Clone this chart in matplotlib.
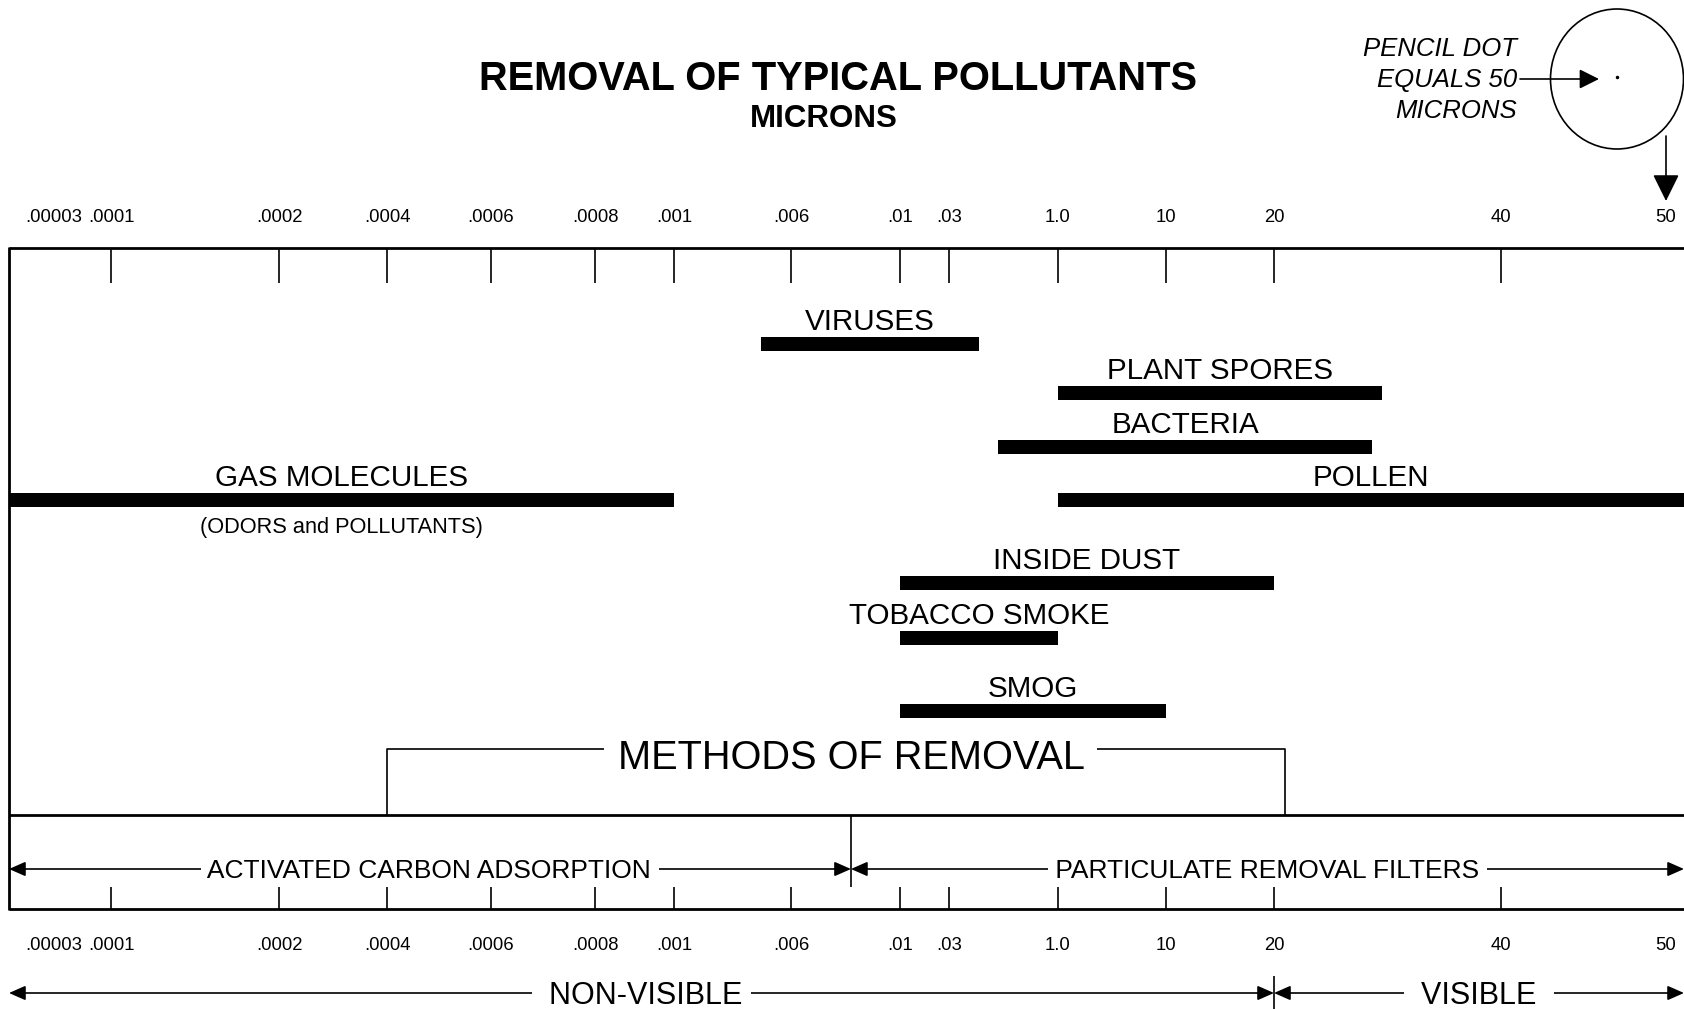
import numpy as np
import matplotlib
matplotlib.use("Agg")
import matplotlib.pyplot as plt
from matplotlib.patches import Ellipse

plt.rcParams['font.family'] = ['Liberation Sans', 'DejaVu Sans']

# micron scale printed along the top and bottom edge
TICK_LABELS = ['.00003', '.0001', '.0002', '.0004', '.0006', '.0008', '.001',
               '.006', '.01', '.03', '1.0', '10', '20', '40', '50']
TICK_VALUES = [0.00003, 0.0001, 0.0002, 0.0004, 0.0006, 0.0008, 0.001,
               0.006, 0.01, 0.03, 1.0, 10, 20, 40, 50]
TICK_MARKED = [False] + [True] * 13 + [False]
# the printed scale is neither linear nor log: where each label sits (px)
TICK_PIXELS = [54, 111, 279, 387, 491, 595, 674, 791, 900, 949, 1058,
               1166, 1274, 1501, 1666]
X_MIN, X_MAX = 0.00001, 55
EDGE_PIXELS = (9, 1684)

# pollutant size ranges (microns)
POLLUTANTS = ['VIRUSES', 'PLANT SPORES', 'BACTERIA', 'GAS MOLECULES', 'POLLEN',
              'INSIDE DUST', 'TOBACCO SMOKE', 'SMOG']
SIZE_LOW = [0.0047, 1.0, 0.47, 0.00001, 1.0, 0.01, 0.01, 0.01]
SIZE_HIGH = [0.3, 29.5, 28.6, 0.001, 55, 20, 1.0, 10]

# methods of removal / visibility ranges (microns)
CARBON = (0.00001, 0.0082)
FILTERS = (0.0082, 55)
NON_VISIBLE = (0.00001, 20)
VISIBLE = (20, 55)
METHODS_SPAN = (0.0004, 21)

# layout (pixels from top)
ROW_Y = [344, 393, 447, 500, 500, 583, 638, 711]
BOX_TOP, BOX_MID, BOX_BOT = 248, 815, 909

sv = [X_MIN] + TICK_VALUES + [X_MAX]
sp = [EDGE_PIXELS[0]] + TICK_PIXELS + [EDGE_PIXELS[1]]


def forward(v):
    return np.interp(np.asarray(v, dtype=float), sv, sp)


def inverse(p):
    return np.interp(np.asarray(p, dtype=float), sp, sv)


def mid(a, b):
    return float(inverse((forward(a) + forward(b)) / 2))


W, H = 1684, 1009
fig = plt.figure(figsize=(W / 100, H / 100), dpi=100)

pix = fig.add_axes([0, 0, 1, 1])
pix.set_xlim(0, W)
pix.set_ylim(H, 0)
pix.axis('off')

ax = fig.add_axes([EDGE_PIXELS[0] / W, 0, (EDGE_PIXELS[1] - EDGE_PIXELS[0]) / W, 1])
ax.set_xscale('function', functions=(forward, inverse))
ax.set_xlim(X_MIN, X_MAX)
ax.set_ylim(H, 0)
ax.axis('off')
ax.patch.set_visible(False)

# frame
thick = dict(color='black', lw=2.0, clip_on=False, solid_capstyle='butt')
for y in (BOX_TOP, BOX_MID, BOX_BOT):
    ax.plot([X_MIN, X_MAX], [y, y], **thick)
ax.plot([X_MIN, X_MIN], [BOX_TOP - 1, BOX_BOT + 1], **thick)

# ticks and labels
marked = [v for v, m in zip(TICK_VALUES, TICK_MARKED) if m]
ax.vlines(marked, BOX_TOP, BOX_TOP + 35, color='black', lw=1.2)
ax.vlines(marked, BOX_BOT - 22, BOX_BOT, color='black', lw=1.2)
for v, lab in zip(TICK_VALUES, TICK_LABELS):
    ax.text(v, 222, lab, ha='center', va='baseline', fontsize=13.3)
    ax.text(v, 949.5, lab, ha='center', va='baseline', fontsize=13.3)

# pollutant bars
ax.barh(ROW_Y, np.array(SIZE_HIGH) - np.array(SIZE_LOW), left=SIZE_LOW,
        height=13.5, color='black', clip_on=False)
for name, lo, hi, y in zip(POLLUTANTS, SIZE_LOW, SIZE_HIGH, ROW_Y):
    ax.text(mid(lo, hi), y - 14, name, ha='center', va='baseline', fontsize=21.3)
gi = POLLUTANTS.index('GAS MOLECULES')
ax.text(mid(SIZE_LOW[gi], SIZE_HIGH[gi]), ROW_Y[gi] + 33, '(ODORS and POLLUTANTS)',
        ha='center', va='baseline', fontsize=15.7)

# methods of removal bracket
ax.plot([METHODS_SPAN[0], METHODS_SPAN[0], METHODS_SPAN[1], METHODS_SPAN[1]],
        [BOX_MID, 749, 749, BOX_MID], color='black', lw=1.2)
ax.text(CARBON[1], 769, ' METHODS OF REMOVAL ', ha='center', va='baseline',
        fontsize=28.6, bbox=dict(facecolor='white', edgecolor='none', pad=2))
ax.vlines(CARBON[1], BOX_MID, BOX_BOT - 22, color='black', lw=1.2)


def span_arrow(rng, y, label, size, base):
    ax.annotate('', xy=(rng[1], y), xytext=(rng[0], y), annotation_clip=False,
                arrowprops=dict(arrowstyle='<|-|>,head_length=0.5,head_width=0.22',
                                mutation_scale=20, lw=1.2, color='black',
                                shrinkA=0, shrinkB=0))
    ax.text(mid(*rng), base, label, ha='center', va='baseline', fontsize=size,
            bbox=dict(facecolor='white', edgecolor='none', pad=0))


span_arrow(CARBON, 869, ' ACTIVATED CARBON ADSORPTION ', 19, 878.5)
span_arrow(FILTERS, 869, ' PARTICULATE REMOVAL FILTERS ', 19, 878.5)
span_arrow(NON_VISIBLE, 993, '  NON-VISIBLE ', 22, 1003.5)
span_arrow(VISIBLE, 993, '  VISIBLE  ', 22, 1003.5)
ax.vlines(VISIBLE[0], 976, H, color='black', lw=1.2, clip_on=False)

# title
pix.text(838, 89.5, 'REMOVAL OF TYPICAL POLLUTANTS', ha='center', va='baseline',
         fontsize=28.7, fontweight='bold')
pix.text(824, 127, 'MICRONS', ha='center', va='baseline', fontsize=22.5,
         fontweight='bold')

# pencil dot inset
pix.add_patch(Ellipse((1617, 79), 133, 140, fill=False, lw=1.2, color='black'))
pix.plot([1617], [77], 'k.', ms=3)
for txt, yb in zip(['PENCIL DOT', 'EQUALS 50', 'MICRONS'], [56, 87.5, 117.5]):
    pix.text(1517, yb, txt, ha='right', va='baseline', fontsize=18.5, style='italic')
pix.annotate('', xy=(1599, 79), xytext=(1520, 79),
             arrowprops=dict(arrowstyle='-|>,head_length=0.6,head_width=0.3',
                             mutation_scale=20, lw=1.2, color='black',
                             shrinkA=0, shrinkB=0))
pix.annotate('', xy=(1666, 201), xytext=(1666, 136),
             arrowprops=dict(arrowstyle='-|>,head_length=0.83,head_width=0.41',
                             mutation_scale=20, lw=1.2, color='black',
                             shrinkA=0, shrinkB=0))

fig.savefig('out.png', dpi=100, facecolor='white')
